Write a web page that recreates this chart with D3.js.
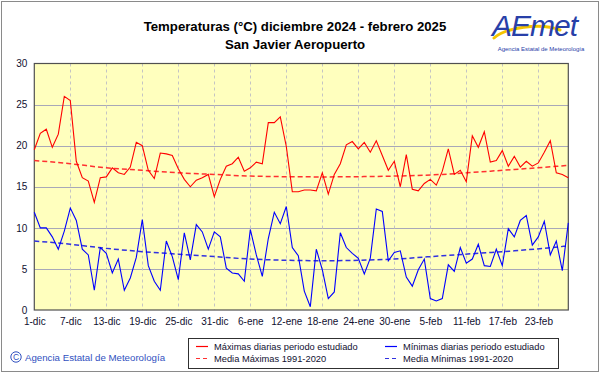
<!DOCTYPE html>
<html><head><meta charset="utf-8">
<script src="https://cdn.jsdelivr.net/npm/d3@7"></script>
<style>body{margin:0;background:#fff}svg{display:block}text{font-family:"Liberation Sans",Arial,sans-serif}</style>
</head><body><svg id="c" width="601" height="374"></svg>
<script>
const xTickLabels = ["1-dic","7-dic","13-dic","19-dic","25-dic","31-dic","6-ene","12-ene","18-ene","24-ene","30-ene","5-feb","11-feb","17-feb","23-feb"];
const yTicks = [0,5,10,15,20,25,30];
const maxDaily = [19.5,21.5,22.0,19.8,21.4,26.0,25.5,18.1,16.1,15.7,13.1,16.1,16.2,17.3,16.7,16.5,17.4,20.4,20.0,17.0,16.0,19.1,19.0,18.8,17.2,15.9,15.0,15.8,16.1,16.5,13.8,15.9,17.5,17.8,18.6,16.9,17.3,18.0,17.8,22.8,22.8,23.5,19.9,14.4,14.4,14.6,14.6,14.5,16.7,14.1,16.5,17.8,20.1,20.5,19.6,20.4,19.2,20.6,18.8,17.0,18.1,15.0,18.9,14.7,14.5,15.4,15.9,15.2,16.9,19.6,16.5,17.0,15.6,21.2,19.8,21.7,18.0,18.2,19.4,17.5,18.7,17.4,18.1,17.5,17.9,19.2,20.6,16.7,16.5,16.1];
const minDaily = [11.9,10.0,10.0,8.9,7.4,9.6,12.4,10.9,7.4,6.7,2.4,7.6,6.9,4.5,6.2,2.4,3.9,6.4,11.0,5.4,3.5,2.4,8.4,6.5,3.7,9.4,6.1,10.4,9.5,7.4,9.5,8.9,5.1,4.5,4.4,3.5,9.8,6.7,4.1,8.7,11.9,10.5,12.6,7.6,6.6,2.3,0.4,7.4,4.9,1.4,2.2,9.4,7.6,6.9,6.3,4.4,6.3,12.3,12.0,6.0,7.0,7.2,4.0,2.9,4.9,6.2,1.4,1.1,1.4,5.5,4.7,7.6,5.7,6.2,8.0,5.4,5.3,7.4,5.4,9.9,8.9,10.9,11.5,7.9,8.9,10.8,6.7,8.4,4.8,10.6];
const meanDays = [0,6,12,18,24,30,36,48,60,68,74,80,89];
const meanMax = [18.2,17.8,17.3,17.0,16.7,16.5,16.3,16.2,16.3,16.5,16.8,17.1,17.6];
const meanMin = [8.4,8.0,7.5,7.1,6.8,6.5,6.2,6.0,6.2,6.6,6.9,7.2,7.8];
const legendLabels = ["Máximas diarias periodo estudiado","Mínimas diarias periodo estudiado","Media Máximas 1991-2020","Media Mínimas 1991-2020"];

const svg = d3.select("#c");
const L=34.3, R=568.3, T=63.5, B=310;
const x = d3.scaleLinear().domain([0,89]).range([L,R]);
const y = d3.scaleLinear().domain([0,30]).range([B,T]);

// outer frame
svg.append("rect").attr("x",1.5).attr("y",1.5).attr("width",597).attr("height",370).attr("fill","#fff").attr("stroke","#8a8a8a");

// titles
svg.append("text").attr("x",295).attr("y",30.5).attr("text-anchor","middle").attr("font-size",13.2).attr("font-weight","bold").attr("fill","#000").text("Temperaturas (°C) diciembre 2024 - febrero 2025");
svg.append("text").attr("x",295).attr("y",49).attr("text-anchor","middle").attr("font-size",13.2).attr("font-weight","bold").attr("fill","#000").text("San Javier Aeropuerto");

// logo
const lg = svg.append("g");
lg.append("path").attr("d","M494,38 C505,28 540,22 560,30").attr("fill","none").attr("stroke","#f5c400").attr("stroke-width",3).attr("stroke-linecap","round");
lg.append("text").attr("x",492).attr("y",36).attr("font-size",30).attr("font-style","italic").attr("fill","#2840a8").attr("letter-spacing",-1).text("AEmet");
lg.append("text").attr("x",541).attr("y",51).attr("text-anchor","middle").attr("font-size",6).attr("fill","#2840a8").text("Agencia Estatal de Meteorología");

// plot background
svg.append("rect").attr("x",L).attr("y",T).attr("width",R-L).attr("height",B-T).attr("fill","#ffffbe");

// grid
svg.append("g").selectAll("line").data(yTicks.filter(v=>v>0&&v<30)).join("line")
  .attr("x1",L).attr("x2",R).attr("y1",d=>Math.round(y(d))+0.5).attr("y2",d=>Math.round(y(d))+0.5)
  .attr("stroke","#a8a8b8").attr("stroke-width",1);
const tickIdx = xTickLabels.map((d,i)=>i*6);
svg.append("g").selectAll("line").data(tickIdx.filter(i=>i>0)).join("line")
  .attr("x1",d=>Math.round(x(d))+0.5).attr("x2",d=>Math.round(x(d))+0.5).attr("y1",T).attr("y2",B)
  .attr("stroke","#c4c4c4").attr("stroke-width",1).attr("stroke-dasharray","3,3");

// axes
const yAxis = svg.append("g").attr("transform",`translate(${L},0)`)
  .call(d3.axisLeft(y).tickValues(yTicks).tickSize(0).tickPadding(7));
yAxis.select(".domain").remove();
yAxis.selectAll("text").attr("font-size",10).attr("fill","#101030").style("font-family","'Liberation Sans',Arial,sans-serif");
const xAxis = svg.append("g").attr("transform",`translate(0,${B})`)
  .call(d3.axisBottom(x).tickValues(tickIdx).tickFormat((d,i)=>xTickLabels[i]).tickSize(0).tickPadding(8));
xAxis.select(".domain").remove();
xAxis.selectAll("text").attr("font-size",10).attr("fill","#101030").style("font-family","'Liberation Sans',Arial,sans-serif");

// plot frame
svg.append("rect").attr("x",L).attr("y",T).attr("width",R-L).attr("height",B-T).attr("fill","none").attr("stroke","#505050").attr("stroke-width",1.2);

// lines
const line = d3.line().x((d,i)=>x(i)).y(d=>y(d));
const mline = d3.line().x(d=>x(d[0])).y(d=>y(d[1])).curve(d3.curveMonotoneX);
svg.append("path").attr("d",mline(meanDays.map((d,i)=>[d,meanMax[i]]))).attr("fill","none").attr("stroke","#ff3030").attr("stroke-width",1.5).attr("stroke-dasharray","5,3");
svg.append("path").attr("d",mline(meanDays.map((d,i)=>[d,meanMin[i]]))).attr("fill","none").attr("stroke","#3030e0").attr("stroke-width",1.5).attr("stroke-dasharray","5,3");
svg.append("path").attr("d",line(maxDaily)).attr("fill","none").attr("stroke","#ff0000").attr("stroke-width",1.1);
svg.append("path").attr("d",line(minDaily)).attr("fill","none").attr("stroke","#0000ff").attr("stroke-width",1.1);

// legend
svg.append("rect").attr("x",188.5).attr("y",338.5).attr("width",370).attr("height",30).attr("fill","#fff").attr("stroke","#303030");
const leg = [
  {x:196,y:346,c:"#ff0000",dash:null,t:legendLabels[0]},
  {x:385,y:346,c:"#0000ff",dash:null,t:legendLabels[1]},
  {x:196,y:358,c:"#ff3030",dash:"4,3",t:legendLabels[2]},
  {x:385,y:358,c:"#3030e0",dash:"4,3",t:legendLabels[3]}];
const lgG = svg.append("g").selectAll("g").data(leg).join("g");
lgG.append("line").attr("x1",d=>d.x).attr("x2",d=>d.x+12).attr("y1",d=>d.y+0.5).attr("y2",d=>d.y+0.5).attr("stroke",d=>d.c).attr("stroke-width",1.2).attr("stroke-dasharray",d=>d.dash);
lgG.append("text").attr("x",d=>d.x+18).attr("y",d=>d.y+3.5).attr("font-size",9.3).attr("fill","#101030").text(d=>d.t);

// copyright
svg.append("circle").attr("cx",16).attr("cy",357).attr("r",5.2).attr("fill","none").attr("stroke","#3050c0").attr("stroke-width",1);
svg.append("text").attr("x",16).attr("y",360.3).attr("text-anchor","middle").attr("font-size",8.5).attr("fill","#3050c0").text("C");
svg.append("text").attr("x",25).attr("y",360.5).attr("font-size",9.7).attr("fill","#3050c0").text("Agencia Estatal de Meteorología");
</script></body></html>
